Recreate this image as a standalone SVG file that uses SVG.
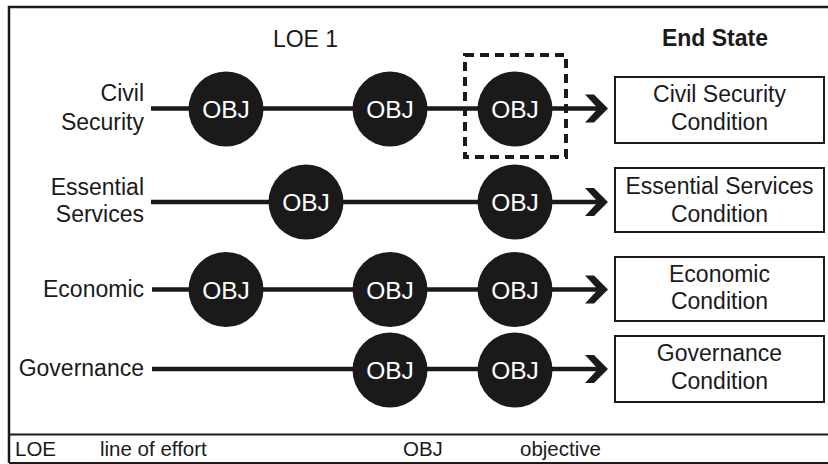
<svg xmlns="http://www.w3.org/2000/svg" xmlns:xlink="http://www.w3.org/1999/xlink" width="828" height="464" viewBox="0 0 828 464">
<style>
.t{font-family:"Liberation Sans",Arial,sans-serif;font-size:23px;fill:#1a1a1a}
.l{text-anchor:end}
.c{text-anchor:middle}
.o{font-family:"Liberation Sans",Arial,sans-serif;font-size:24.5px;fill:#fff;text-anchor:middle}
.f{font-family:"Liberation Sans",Arial,sans-serif;font-size:20.5px;fill:#1a1a1a}
.ln{stroke:#1a1a1a;stroke-width:4.5;fill:none}
.box{fill:#fff;stroke:#1a1a1a;stroke-width:2}
.obj{fill:#1a1a1a}
</style>
<defs>
<path id="ah" d="M-23,-14 L-14,-14 L0,0 L-14,14 L-23,14 L-10,0 Z" fill="#1a1a1a"/>
</defs>
<rect width="828" height="464" fill="#fff"/>
<g id="frame" fill="none" stroke="#1a1a1a">
<path d="M9,463 L9,7 L828,7" stroke-width="2.5"/>
<path d="M9,434.5 L828,434.5" stroke-width="2"/>
<path d="M9,463 L828,463" stroke-width="2"/>
</g>
<g id="headers">
<text class="t c" x="305.5" y="47" font-size="22">LOE 1</text>
<text class="t c" x="715" y="46" font-weight="bold" font-size="22.5">End State</text>
</g>
<g id="labels">
<text class="t l" x="144" y="101">Civil</text>
<text class="t l" x="144" y="130">Security</text>
<text class="t l" x="144" y="195">Essential</text>
<text class="t l" x="144" y="222">Services</text>
<text class="t l" x="144" y="297">Economic</text>
<text class="t l" x="144" y="376">Governance</text>
</g>
<g id="connectors">
<path class="ln" d="M151,108.5 L598,108.5"/>
<path class="ln" d="M151,202 L598,202"/>
<path class="ln" d="M152,289.5 L598,289.5"/>
<path class="ln" d="M152,369 L598,369"/>
<use xlink:href="#ah" href="#ah" x="608" y="108.5"/>
<use xlink:href="#ah" href="#ah" x="608" y="202"/>
<use xlink:href="#ah" href="#ah" x="608" y="289.5"/>
<use xlink:href="#ah" href="#ah" x="608" y="369"/>
</g>
<g id="highlight">
<rect x="465" y="55" width="101" height="102" fill="none" stroke="#1a1a1a" stroke-width="4" stroke-dasharray="9 6"/>
</g>
<g id="obj-r1-1"><circle class="obj" cx="226" cy="109" r="37.5"/><text class="o" x="226" y="118">OBJ</text></g>
<g id="obj-r1-2"><circle class="obj" cx="390" cy="109" r="37.5"/><text class="o" x="390" y="118">OBJ</text></g>
<g id="obj-r1-3"><circle class="obj" cx="515" cy="109" r="37.5"/><text class="o" x="515" y="118">OBJ</text></g>
<g id="obj-r2-1"><circle class="obj" cx="306" cy="202" r="37.5"/><text class="o" x="306" y="211">OBJ</text></g>
<g id="obj-r2-2"><circle class="obj" cx="515" cy="202" r="37.5"/><text class="o" x="515" y="211">OBJ</text></g>
<g id="obj-r3-1"><circle class="obj" cx="226" cy="289.5" r="37.5"/><text class="o" x="226" y="298.5">OBJ</text></g>
<g id="obj-r3-2"><circle class="obj" cx="390" cy="289.5" r="37.5"/><text class="o" x="390" y="298.5">OBJ</text></g>
<g id="obj-r3-3"><circle class="obj" cx="515" cy="289.5" r="37.5"/><text class="o" x="515" y="298.5">OBJ</text></g>
<g id="obj-r4-1"><circle class="obj" cx="390" cy="370" r="37.5"/><text class="o" x="390" y="379">OBJ</text></g>
<g id="obj-r4-2"><circle class="obj" cx="515" cy="370" r="37.5"/><text class="o" x="515" y="379">OBJ</text></g>
<g id="end-civil"><rect class="box" x="615" y="77" width="209" height="66"/><text class="t c" x="719.5" y="102">Civil Security</text><text class="t c" x="719.5" y="130">Condition</text></g>
<g id="end-essential"><rect class="box" x="615" y="168" width="209" height="64"/><text class="t c" x="719.5" y="194">Essential Services</text><text class="t c" x="719.5" y="222">Condition</text></g>
<g id="end-economic"><rect class="box" x="615" y="257" width="209" height="64"/><text class="t c" x="719.5" y="282">Economic</text><text class="t c" x="719.5" y="309">Condition</text></g>
<g id="end-governance"><rect class="box" x="615" y="336" width="209" height="66"/><text class="t c" x="719.5" y="361">Governance</text><text class="t c" x="719.5" y="389">Condition</text></g>
<g id="legend">
<text class="f" x="15" y="456">LOE</text>
<text class="f" x="100" y="456">line of effort</text>
<text class="f" x="403" y="456">OBJ</text>
<text class="f" x="520" y="456">objective</text>
</g>
</svg>
